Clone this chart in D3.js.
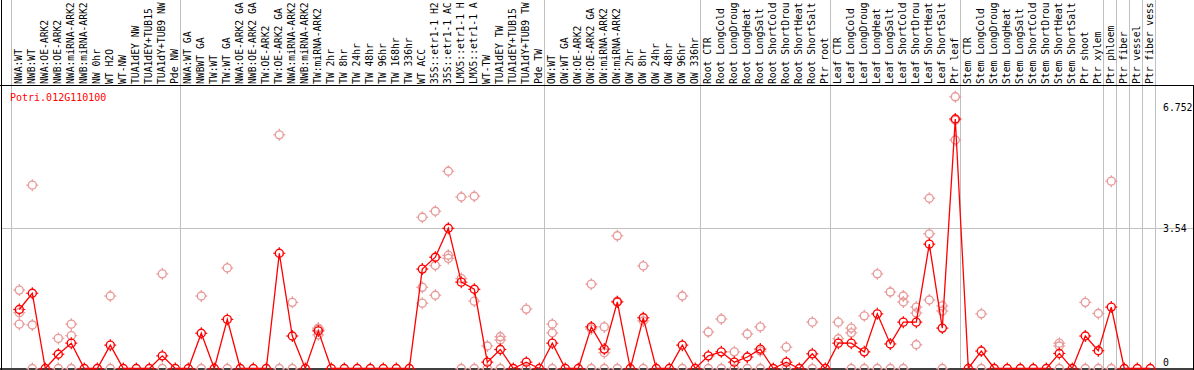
<!DOCTYPE html>
<html><head><meta charset="utf-8">
<script src="https://cdn.jsdelivr.net/npm/d3@7"></script>
<style>html,body{margin:0;padding:0;background:#fff;}svg{display:block;}</style>
</head><body>
<svg id="chart" width="1194" height="370"></svg>
<script>
const title = "Potri.012G110100";
const categories = [
 "NWA:WT","NWB:WT","NWA:OE-ARK2","NWB:OE-ARK2","NWA:miRNA-ARK2","NWB:miRNA-ARK2","NW 0hr","WT H2O","WT-NW","TUA1dEY NW","TUA1dEY+TUB15 NW","TUA1dY+TUB9 NW","Pde NW",
 "NWA:WT GA","NWBWT GA","TW:WT","TW:WT GA","NWA:OE-ARK2 GA","NWB:OE-ARK2 GA","TW:OE-ARK2","TW:OE-ARK2 GA","NWA:miRNA-ARK2","NWB:miRNA-ARK2","TW:miRNA-ARK2","TW 2hr","TW 8hr","TW 24hr","TW 48hr","TW 96hr","TW 168hr","TW 336hr","WT ACC","35S::etr1-1 H2O","35S::etr1-1 ACC","LMX5::etr1-1 H2O","LMX5::etr1-1 ACC","WT-TW","TUA1dEY TW","TUA1dEY+TUB15 TW","TUA1dY+TUB9 TW","Pde TW",
 "OW:WT","OW:WT GA","OW:OE-ARK2","OW:OE-ARK2 GA","OW:miRNA-ARK2","OW:miRNA-ARK2","OW 2hr","OW 8hr","OW 24hr","OW 48hr","OW 96hr","OW 336hr",
 "Root CTR","Root LongCold","Root LongDrought","Root LongHeat","Root LongSalt","Root ShortCold","Root ShortDrought","Root ShortHeat","Root ShortSalt","Ptr root",
 "Leaf CTR","Leaf LongCold","Leaf LongDrought","Leaf LongHeat","Leaf LongSalt","Leaf ShortCold","Leaf ShortDrought","Leaf ShortHeat","Leaf ShortSalt","Ptr leaf",
 "Stem CTR","Stem LongCold","Stem LongDrought","Stem LongHeat","Stem LongSalt","Stem ShortCold","Stem ShortDrought","Stem ShortHeat","Stem ShortSalt","Ptr shoot","Ptr xylem","Ptr phloem","Ptr fiber","Ptr vessel","Ptr fiber vessel"
];
const means = [
 1.49,1.90,0,0.36,0.64,0,0,0.59,0,0,0,0.32,0,
 0,0.89,0,1.24,0,0,0,2.91,0.82,0,0.95,0,0,0,0,0,0,0,
 2.51,2.81,3.54,2.18,2.00,0.16,0.48,0,0.16,0,
 0.64,0,0,1.05,0.49,1.68,0,1.28,0,0,0.59,0,
 0.32,0.42,0.16,0.29,0.49,0,0.16,0,0.37,0,
 0.64,0.64,0.42,1.38,0.62,1.17,1.17,3.14,1.02,6.30,
 0,0.44,0,0,0,0,0,0.38,0,0.82,0.45,1.55,0,0,0
];
const replicates = [
 [1.98,1.41,1.12],[4.63,1.10,0],[],[0.76,0],[1.12,0.83,0],[],[],[1.83,0],[],[],[],[2.39,0],[],
 [],[1.83,0],[],[2.54,0],[],[],[],[5.90,0],[1.67,0],[],[1.02,0.99,0.85],[],[],[],[],[],[],[],
 [3.82,2.05,1.65],[3.97,2.60,1.85],[4.98,2.86,2.78],[4.33,2.27,0],[4.35,1.70,0],[0.57,0],[0.80,0.72,0],[],[1.50,0],[],
 [1.12,0.90,0],[],[],[2.13,1.00,0],[1.05,0.40,0],[3.35,1.70,0],[],[2.59,1.20,0],[],[],[1.83,0],[],
 [0.92,0],[1.25,0],[0.42,0],[0.87,0],[1.05,0.44,0],[],[0.54,0],[],[1.17,0],[],
 [1.17,0.75],[1.02,0.90,0],[1.33,0],[2.39,0],[1.93,0],[1.83,1.68,0],[1.55,1.40,0.60],[4.30,3.40,1.73],[1.58,1.45,0],[6.86,5.77,6.27],
 [],[1.38,0],[],[],[],[],[],[0.64,0.57,0],[],[1.67,0],[1.39,0],[4.73,0],[],[],[]
];
const separatorsAfter = [-1,12,40,52,62,72,83,84,85,86,87];
const yTicks = [6.752, 3.54, 0];
const gridValues = [3.54];
const labelChars = 14;

const W = 1194, H = 370;
const svg = d3.select("#chart");
const x = d3.scaleLinear().domain([0, categories.length - 1]).range([19.3, 1150.3]);
const y = d3.scaleLinear().domain([0, 3.54]).range([368.5, 228.3]);
const FONT = "'DejaVu Sans Mono', 'Liberation Mono', monospace";

// separators (gray)
svg.append("g").selectAll("line").data(separatorsAfter).join("line")
  .attr("x1", d => Math.round(x(d) + 5) + 0.5).attr("x2", d => Math.round(x(d) + 5) + 0.5)
  .attr("y1", 0).attr("y2", 368)
  .attr("stroke", "#c0c0c0").attr("stroke-width", 1);

// horizontal grid
svg.append("g").selectAll("line").data(gridValues).join("line")
  .attr("x1", 2).attr("x2", 1193)
  .attr("y1", d => Math.round(y(d)) + 0.5).attr("y2", d => Math.round(y(d)) + 0.5)
  .attr("stroke", "#c0c0c0").attr("stroke-width", 1);

// header labels (shown truncated, as in the original)
svg.append("g").selectAll("text").data(categories).join("text")
  .attr("transform", (d, i) => `translate(${x(i) + 2.2},84) rotate(-90)`)
  .attr("font-family", FONT).attr("font-size", 9.7).attr("fill", "#000")
  .text(d => d.slice(0, labelChars).trimEnd());

// borders
svg.append("line").attr("x1", 0).attr("x2", W).attr("y1", 85.5).attr("y2", 85.5).attr("stroke", "#000");
svg.append("line").attr("x1", 1.5).attr("x2", 1.5).attr("y1", 0).attr("y2", H).attr("stroke", "#000");
svg.append("line").attr("x1", 1193.5).attr("x2", 1193.5).attr("y1", 85).attr("y2", H).attr("stroke", "#000");
svg.append("line").attr("x1", 0).attr("x2", W).attr("y1", y(0) + 0.5).attr("y2", y(0) + 0.5).attr("stroke", "#000").attr("stroke-width", 1.5);

// title
svg.append("text").attr("x", 10).attr("y", 101).attr("font-family", FONT).attr("font-size", 10)
  .attr("fill", "#ff0000").text(title);

// y tick labels
svg.append("g").selectAll("text").data(yTicks).join("text")
  .attr("x", 1163).attr("y", d => y(d) + (d === 0 ? -2.5 : (d === 3.54 ? 3.5 : 10)))
  .attr("font-family", FONT).attr("font-size", 9.8).attr("fill", "#000")
  .text(d => d === 0 ? "0" : String(d));

function marker(g, color) {
  g.append("circle").attr("r", 4).attr("fill", "none").attr("stroke", color).attr("stroke-width", 1.4);
  [[0,-4,0,-6],[0,4,0,6],[-4,0,-6,0],[4,0,6,0]].forEach(s =>
    g.append("line").attr("x1", s[0]).attr("y1", s[1]).attr("x2", s[2]).attr("y2", s[3])
      .attr("stroke", color).attr("stroke-width", 1.2));
}

// replicate points
const repData = [];
replicates.forEach((arr, i) => arr.forEach(v => repData.push({i, v})));
svg.append("g").selectAll("g").data(repData).join("g")
  .attr("transform", d => `translate(${x(d.i)},${y(d.v)})`)
  .each(function() { marker(d3.select(this), "#e89a9a"); });

// mean line
svg.append("path").datum(means)
  .attr("d", d3.line().x((d, i) => x(i)).y(d => y(d)))
  .attr("fill", "none").attr("stroke", "#ff0000").attr("stroke-width", 1.3);

svg.append("g").selectAll("g").data(means).join("g")
  .attr("transform", (d, i) => `translate(${x(i)},${y(d)})`)
  .each(function() { marker(d3.select(this), "#ff0000"); });
</script>
</body></html>
